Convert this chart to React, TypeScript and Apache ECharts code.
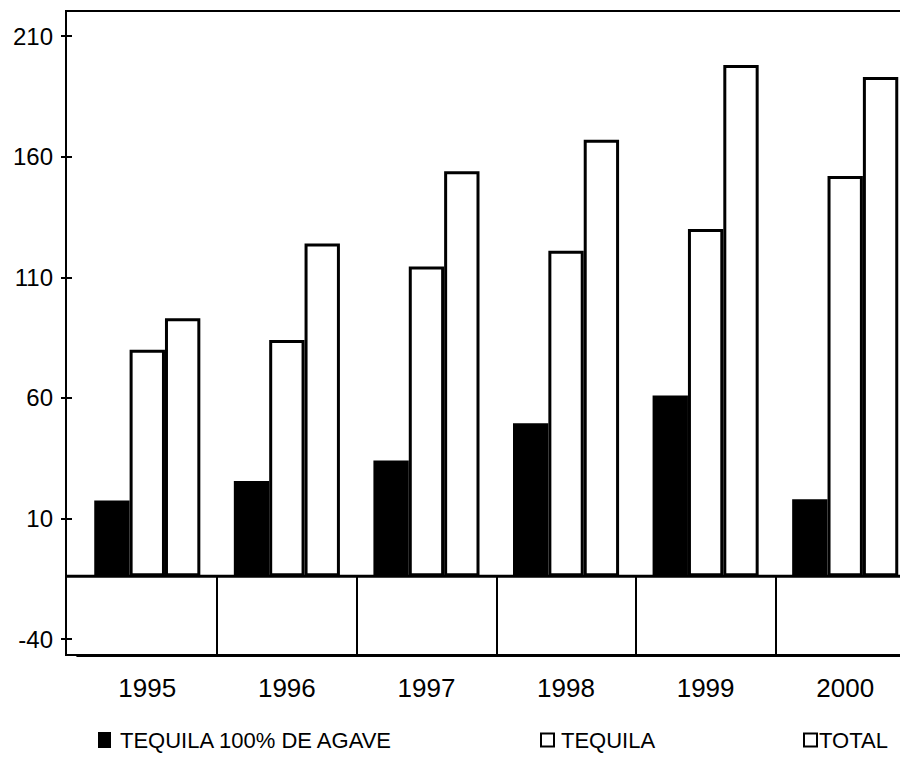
import React, { useEffect, useRef } from "react";
import * as echarts from "echarts";

const years = ["1995", "1996", "1997", "1998", "1999", "2000"];
const agave = [17.5, 25.5, 34, 49.5, 61, 18];
const tequila = [80, 84, 114.5, 121, 130, 152];
const total = [93, 124, 154, 167, 198, 193];
const yTicks = [-40, 10, 60, 110, 160, 210];
const seriesNames = ["TEQUILA 100% DE AGAVE", "TEQUILA", "TOTAL"];
const baseline = -14;
const baselineSpan = [0, 1];
const yMin = -46.6;
const yMax = 220.4;

const FONT = "'Liberation Sans', Arial, sans-serif";

export default function App() {
  const ref = useRef<HTMLDivElement>(null);
  useEffect(() => {
    if (!ref.current) return;
    const chart = echarts.init(ref.current, undefined, { renderer: "svg" });
    const legendText = { fontFamily: FONT, fontSize: 22, color: "#000" };
    const legendCommon = {
      top: 724,
      icon: "rect",
      itemWidth: 13,
      itemHeight: 13,
      selectedMode: false,
    };
    chart.setOption({
      animation: false,
      backgroundColor: "#fff",
      grid: [
        {
          left: 66,
          width: 852,
          top: 11,
          bottom: 105,
          show: true,
          borderColor: "#000",
          borderWidth: 2,
          backgroundColor: "transparent",
          containLabel: false,
          outerBoundsMode: "none",
        },
        {
          left: 77.5,
          width: 837.5,
          top: 11,
          bottom: 105,
          show: false,
          containLabel: false,
          outerBoundsMode: "none",
        },
      ],
      xAxis: [
        {
          type: "value",
          gridIndex: 0,
          min: 0,
          max: 1,
          show: false,
        },
        {
          type: "category",
          gridIndex: 1,
          data: years,
          position: "bottom",
          boundaryGap: true,
          axisLine: { show: true, onZero: false, lineStyle: { color: "#000", width: 3 } },
          axisTick: {
            show: true,
            inside: true,
            length: 78,
            interval: (index: number) => index > 0,
            lineStyle: { color: "#000", width: 2 },
          },
          axisLabel: { margin: 20, fontFamily: FONT, fontSize: 26, color: "#000" },
          splitLine: { show: false },
        },
      ],
      yAxis: [
        {
          type: "value",
          gridIndex: 0,
          min: yMin,
          max: yMax,
          position: "left",
          axisLine: { show: true, lineStyle: { color: "#000", width: 2 } },
          axisTick: { show: true, length: 5, customValues: yTicks, lineStyle: { color: "#000", width: 2 } },
          axisLabel: { margin: 13, customValues: yTicks, fontFamily: FONT, fontSize: 24, color: "#000" },
          splitLine: { show: false },
        },
        {
          type: "value",
          gridIndex: 0,
          min: yMin,
          max: yMax,
          position: "left",
          axisLine: { show: false },
          axisTick: { show: true, inside: true, length: 6, customValues: yTicks, lineStyle: { color: "#000", width: 2 } },
          axisLabel: { show: false },
          splitLine: { show: false },
        },
        {
          type: "value",
          gridIndex: 1,
          min: yMin,
          max: yMax,
          startValue: baseline,
          show: false,
        },
      ],
      legend: [
        {
          ...legendCommon,
          data: [seriesNames[0]],
          left: 93,
          itemHeight: 16,
          itemStyle: { color: "#000", borderWidth: 0 },
          textStyle: { ...legendText, padding: [0, 0, 0, 4] },
        },
        {
          ...legendCommon,
          data: [seriesNames[1]],
          left: 535,
          itemStyle: { color: "#fff", borderColor: "#000", borderWidth: 2 },
          textStyle: { ...legendText, padding: [0, 0, 0, 2] },
        },
        {
          ...legendCommon,
          data: [seriesNames[2]],
          left: 798,
          itemStyle: { color: "#fff", borderColor: "#000", borderWidth: 2 },
          textStyle: { ...legendText, padding: [0, 0, 0, -3] },
        },
      ],
      series: [
        {
          name: "baseline",
          type: "line",
          xAxisIndex: 0,
          yAxisIndex: 0,
          data: baselineSpan.map((x) => [x, baseline]),
          symbol: "none",
          silent: true,
          lineStyle: { color: "#000", width: 3 },
          z: 5,
        },
        {
          name: seriesNames[0],
          type: "bar",
          xAxisIndex: 1,
          yAxisIndex: 2,
          data: agave,
          barGap: "0%",
          barCategoryGap: "24%",
          itemStyle: { color: "#000", borderColor: "#000", borderWidth: 2 },
        },
        {
          name: seriesNames[1],
          type: "bar",
          xAxisIndex: 1,
          yAxisIndex: 2,
          data: tequila,
          barGap: "0%",
          barCategoryGap: "24%",
          itemStyle: { color: "#fff", borderColor: "#000", borderWidth: 3 },
        },
        {
          name: seriesNames[2],
          type: "bar",
          xAxisIndex: 1,
          yAxisIndex: 2,
          data: total,
          barGap: "0%",
          barCategoryGap: "24%",
          itemStyle: { color: "#fff", borderColor: "#000", borderWidth: 3 },
        },
      ],
    });
    return () => chart.dispose();
  }, []);
  return (
    <div
      ref={ref}
      style={{ position: "absolute", left: 0, top: 0, width: 900, height: 760, background: "#fff" }}
    />
  );
}
